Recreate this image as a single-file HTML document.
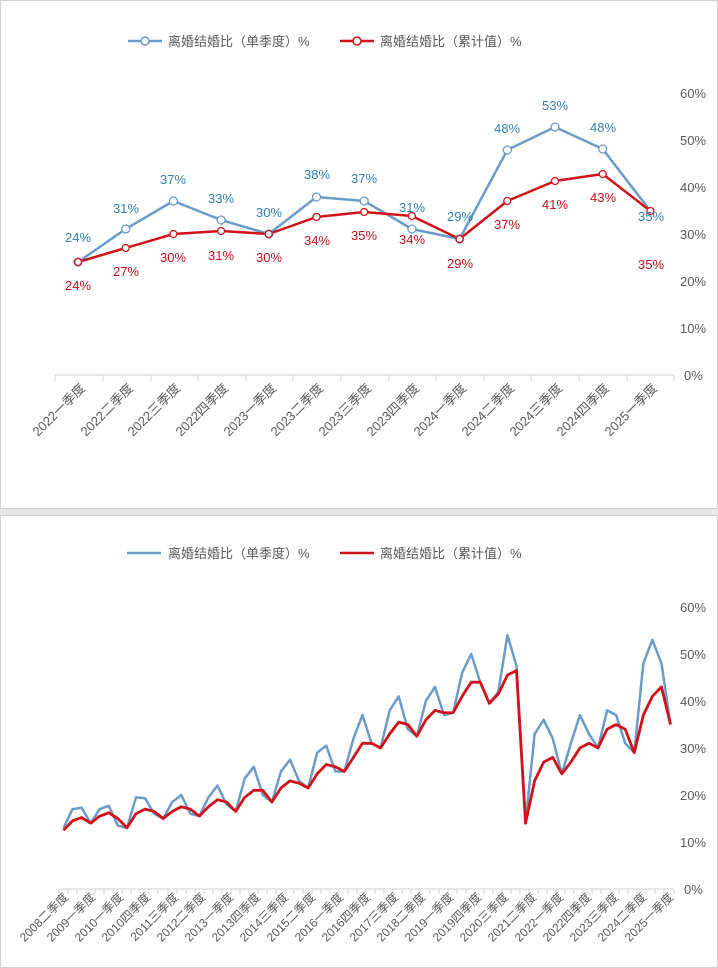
<!DOCTYPE html>
<html><head><meta charset="utf-8"><style>
body{margin:0;background:#fff;}
svg{display:block;font-family:"Liberation Sans","Noto Sans CJK SC",sans-serif;}
</style></head><body>
<svg width="718" height="968" viewBox="0 0 718 968">
<rect x="0" y="0" width="718" height="968" fill="#fff"/>
<rect x="0.5" y="0.5" width="717" height="508" fill="#fff" stroke="#d0d0d0"/>
<rect x="0" y="509" width="718" height="6" fill="#e6e6e6"/>
<rect x="0.5" y="515.5" width="717" height="452" fill="#fff" stroke="#d0d0d0"/>

<!-- TOP legend -->
<g font-size="13" fill="#595959">
<line x1="128" y1="41" x2="162" y2="41" stroke="#6b9bc8" stroke-width="2.5"/>
<circle cx="145" cy="41" r="4" fill="#fff" stroke="#6b9bc8" stroke-width="1.5"/>
<text x="168" y="46">离婚结婚比（单季度）%</text>
<line x1="340" y1="41" x2="374" y2="41" stroke="#d0121b" stroke-width="2.5"/>
<circle cx="357" cy="41" r="4" fill="#fff" stroke="#d0121b" stroke-width="1.5"/>
<text x="380" y="46">离婚结婚比（累计值）%</text>
</g>
<!-- TOP y ticks -->
<g font-size="13" fill="#595959">
<text x="680" y="98">60%</text><text x="680" y="145">50%</text><text x="680" y="192">40%</text>
<text x="680" y="239">30%</text><text x="680" y="286">20%</text><text x="680" y="333">10%</text><text x="684" y="380">0%</text>
</g>
<!-- TOP axis -->
<line x1="55" y1="375" x2="674" y2="375" stroke="#d0d0d0"/>
<g stroke="#d0d0d0">
<line x1="55" y1="375" x2="55" y2="381"/><line x1="103" y1="375" x2="103" y2="381"/><line x1="151" y1="375" x2="151" y2="381"/><line x1="198" y1="375" x2="198" y2="381"/><line x1="246" y1="375" x2="246" y2="381"/><line x1="293" y1="375" x2="293" y2="381"/><line x1="341" y1="375" x2="341" y2="381"/><line x1="389" y1="375" x2="389" y2="381"/><line x1="436" y1="375" x2="436" y2="381"/><line x1="484" y1="375" x2="484" y2="381"/><line x1="531" y1="375" x2="531" y2="381"/><line x1="579" y1="375" x2="579" y2="381"/><line x1="627" y1="375" x2="627" y2="381"/><line x1="674" y1="375" x2="674" y2="381"/>
</g>
<g font-size="13" fill="#595959" text-anchor="end">
<text transform="translate(86,389) rotate(-45)">2022一季度</text>
<text transform="translate(134,389) rotate(-45)">2022二季度</text>
<text transform="translate(181,389) rotate(-45)">2022三季度</text>
<text transform="translate(229,389) rotate(-45)">2022四季度</text>
<text transform="translate(277,389) rotate(-45)">2023一季度</text>
<text transform="translate(324,389) rotate(-45)">2023二季度</text>
<text transform="translate(372,389) rotate(-45)">2023三季度</text>
<text transform="translate(420,389) rotate(-45)">2023四季度</text>
<text transform="translate(467,389) rotate(-45)">2024一季度</text>
<text transform="translate(515,389) rotate(-45)">2024二季度</text>
<text transform="translate(563,389) rotate(-45)">2024三季度</text>
<text transform="translate(610,389) rotate(-45)">2024四季度</text>
<text transform="translate(658,389) rotate(-45)">2025一季度</text>
</g>
<!-- TOP series -->
<polyline fill="none" stroke="#6b9bc8" stroke-width="2.5" stroke-linejoin="round" points="78,262 125.7,229 173.4,201 221.1,220 268.8,234 316.5,197 364.2,201 411.9,229 459.6,239 507.3,150 555,127 602.7,149 650.4,211"/>
<polyline fill="none" stroke="#d0121b" stroke-width="2.5" stroke-linejoin="round" points="78,262 125.7,248 173.4,234 221.1,231 268.8,234 316.5,217 364.2,212 411.9,216 459.6,239 507.3,201 555,181 602.7,174 650.4,211"/>
<g fill="#fff" stroke="#6b9bc8" stroke-width="1.3">
<circle cx="78" cy="262" r="4"/><circle cx="125.7" cy="229" r="4"/><circle cx="173.4" cy="201" r="4"/><circle cx="221.1" cy="220" r="4"/><circle cx="268.8" cy="234" r="4"/><circle cx="316.5" cy="197" r="4"/><circle cx="364.2" cy="201" r="4"/><circle cx="411.9" cy="229" r="4"/><circle cx="459.6" cy="239" r="4"/><circle cx="507.3" cy="150" r="4"/><circle cx="555" cy="127" r="4"/><circle cx="602.7" cy="149" r="4"/>
</g>
<g fill="#fff" stroke="#d0121b" stroke-width="1.3">
<circle cx="125.7" cy="248" r="3.5"/><circle cx="173.4" cy="234" r="3.5"/><circle cx="221.1" cy="231" r="3.5"/><circle cx="268.8" cy="234" r="3.5"/><circle cx="316.5" cy="217" r="3.5"/><circle cx="364.2" cy="212" r="3.5"/><circle cx="411.9" cy="216" r="3.5"/><circle cx="459.6" cy="239" r="3.5"/><circle cx="507.3" cy="201" r="3.5"/><circle cx="555" cy="181" r="3.5"/><circle cx="602.7" cy="174" r="3.5"/><circle cx="650.4" cy="211" r="3.5"/><circle cx="78" cy="262" r="3.5"/>
</g>
<g font-size="13" fill="#2e80b8" text-anchor="middle">
<text x="78" y="242">24%</text><text x="126" y="213">31%</text><text x="173" y="184">37%</text><text x="221" y="203">33%</text><text x="269" y="217">30%</text><text x="317" y="179">38%</text><text x="364" y="183">37%</text><text x="412" y="212">31%</text><text x="460" y="221">29%</text><text x="507" y="133">48%</text><text x="555" y="110">53%</text><text x="603" y="132">48%</text><text x="651" y="221">35%</text>
</g>
<g font-size="13" fill="#c8101b" text-anchor="middle">
<text x="78" y="290">24%</text><text x="126" y="276">27%</text><text x="173" y="262">30%</text><text x="221" y="260">31%</text><text x="269" y="262">30%</text><text x="317" y="245">34%</text><text x="364" y="240">35%</text><text x="412" y="244">34%</text><text x="460" y="268">29%</text><text x="507" y="229">37%</text><text x="555" y="209">41%</text><text x="603" y="202">43%</text><text x="651" y="269">35%</text>
</g>

<!-- BOTTOM legend -->
<g font-size="13" fill="#595959">
<line x1="127" y1="553" x2="161" y2="553" stroke="#6b9bc8" stroke-width="2.5"/>
<text x="168" y="558">离婚结婚比（单季度）%</text>
<line x1="340" y1="553" x2="374" y2="553" stroke="#d0121b" stroke-width="2.5"/>
<text x="380" y="558">离婚结婚比（累计值）%</text>
</g>
<g font-size="13" fill="#595959">
<text x="680" y="612">60%</text><text x="680" y="659">50%</text><text x="680" y="706">40%</text>
<text x="680" y="753">30%</text><text x="680" y="800">20%</text><text x="680" y="847">10%</text><text x="684" y="894">0%</text>
</g>
<line x1="59" y1="889" x2="674" y2="889" stroke="#d0d0d0"/>
<g stroke="#d0d0d0">
<path d="M59 889v5M68 889v5M77 889v5M86 889v5M95 889v5M104 889v5M113 889v5M122 889v5M131 889v5M140 889v5M149 889v5M158 889v5M168 889v5M177 889v5M186 889v5M195 889v5M204 889v5M213 889v5M222 889v5M231 889v5M240 889v5M249 889v5M258 889v5M267 889v5M276 889v5M285 889v5M294 889v5M303 889v5M312 889v5M321 889v5M330 889v5M339 889v5M348 889v5M357 889v5M366 889v5M375 889v5M384 889v5M393 889v5M402 889v5M411 889v5M420 889v5M430 889v5M439 889v5M448 889v5M457 889v5M466 889v5M475 889v5M484 889v5M493 889v5M502 889v5M511 889v5M520 889v5M529 889v5M538 889v5M547 889v5M556 889v5M565 889v5M574 889v5M583 889v5M592 889v5M601 889v5M610 889v5M619 889v5M628 889v5M637 889v5M646 889v5M655 889v5M664 889v5M674 889v5"/>
</g>
<g font-size="12" fill="#595959" text-anchor="end">
<text transform="translate(69,898) rotate(-45)">2008二季度</text>
<text transform="translate(96,898) rotate(-45)">2009一季度</text>
<text transform="translate(124,898) rotate(-45)">2010一季度</text>
<text transform="translate(151,898) rotate(-45)">2010四季度</text>
<text transform="translate(179,898) rotate(-45)">2011三季度</text>
<text transform="translate(206,898) rotate(-45)">2012二季度</text>
<text transform="translate(234,898) rotate(-45)">2013一季度</text>
<text transform="translate(261,898) rotate(-45)">2013四季度</text>
<text transform="translate(289,898) rotate(-45)">2014三季度</text>
<text transform="translate(316,898) rotate(-45)">2015二季度</text>
<text transform="translate(344,898) rotate(-45)">2016一季度</text>
<text transform="translate(371,898) rotate(-45)">2016四季度</text>
<text transform="translate(399,898) rotate(-45)">2017三季度</text>
<text transform="translate(426,898) rotate(-45)">2018二季度</text>
<text transform="translate(454,898) rotate(-45)">2019一季度</text>
<text transform="translate(482,898) rotate(-45)">2019四季度</text>
<text transform="translate(509,898) rotate(-45)">2020三季度</text>
<text transform="translate(537,898) rotate(-45)">2021二季度</text>
<text transform="translate(564,898) rotate(-45)">2022一季度</text>
<text transform="translate(592,898) rotate(-45)">2022四季度</text>
<text transform="translate(619,898) rotate(-45)">2023三季度</text>
<text transform="translate(647,898) rotate(-45)">2024二季度</text>
<text transform="translate(674,898) rotate(-45)">2025一季度</text>
</g>
<g transform="translate(63.5,889) scale(9.06,-4.7)">
<polyline fill="none" stroke="#6b9bc8" stroke-width="2.5" stroke-linejoin="round" vector-effect="non-scaling-stroke" points="0,13 1,17 2,17.3 3,14 4,17 5,17.7 6,13.5 7,13 8,19.5 9,19.3 10,16 11,15 12,18.5 13,20 14,16 15,15.5 16,19.5 17,22 18,18 19,16.5 20,23.5 21,26 22,20 23,18.5 24,25 25,27.5 26,23 27,21.5 28,29 29,30.5 30,25 31,25 32,32 33,37 34,31 35,30 36,38 37,41 38,34 39,32.5 40,40 41,43 42,37 43,37.5 44,46 45,50 46,44 47,39.5 48,42 49,54 50,47.5 51,14 52,33 53,36 54,32 55,24.5 56,31 57,37 58,33 59,30 60,38 61,37 62,31 63,29 64,48 65,53 66,48 67,35"/>
<polyline fill="none" stroke="#d0121b" stroke-width="2.8" stroke-linejoin="round" vector-effect="non-scaling-stroke" points="0,12.5 1,14.5 2,15.2 3,14 4,15.5 5,16.2 6,15 7,13 8,16 9,17 10,16.5 11,15 12,16.5 13,17.5 14,17 15,15.5 16,17.5 17,19 18,18.5 19,16.5 20,19.5 21,21 22,21 23,18.5 24,21.5 25,23 26,22.5 27,21.5 28,24.5 29,26.5 30,26 31,25 32,28 33,31 34,31 35,30 36,33 37,35.5 38,35 39,32.5 40,36 41,38 42,37.5 43,37.5 44,41 45,44 46,44 47,39.5 48,41.5 49,45.5 50,46.5 51,14 52,23 53,27 54,28 55,24.5 56,27 57,30 58,31 59,30 60,34 61,35 62,34 63,29 64,37 65,41 66,43 67,35"/>
</g>
</svg>
</body></html>
